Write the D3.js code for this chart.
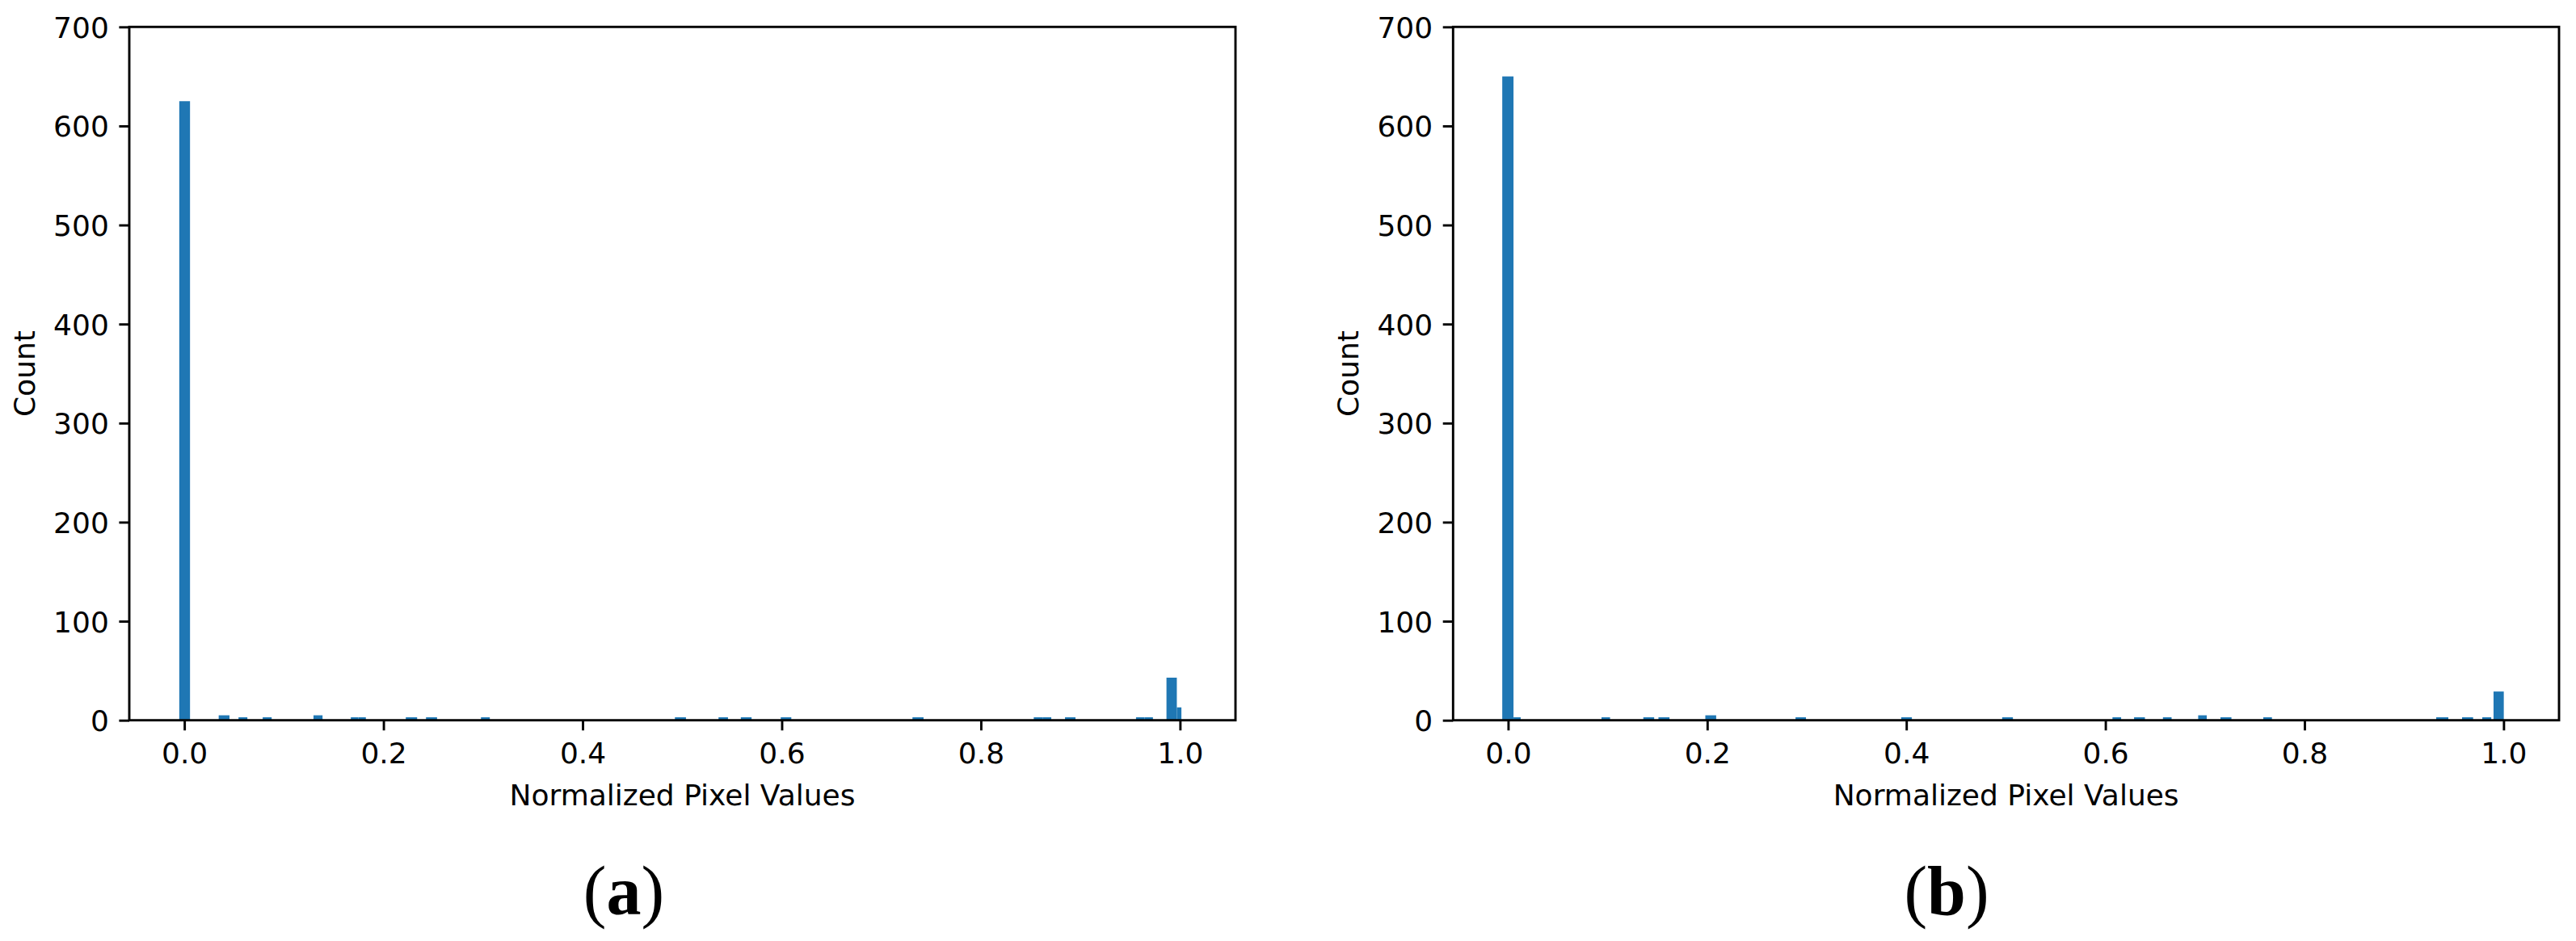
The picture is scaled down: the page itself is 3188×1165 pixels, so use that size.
<!DOCTYPE html>
<html>
<head>
<meta charset="utf-8">
<script src="https://cdn.jsdelivr.net/npm/d3@7"></script>
<style>
  body { margin: 0; background: #fff; }
  .chart text { font-family: "DejaVu Sans", sans-serif; fill: #000; }
</style>
</head>
<body>
<div class="map"></div>
<script>
//tick values shared by both histograms
var xTicks = [0.0, 0.2, 0.4, 0.6, 0.8, 1.0];
var yTicks = [0, 100, 200, 300, 400, 500, 600, 700];

//histogram (a): bin start, bin end, count
var binsA = [
  [-0.0051, 0.0057, 625],
  [0.0345, 0.0453, 5],
  [0.0544, 0.0633, 3],
  [0.0787, 0.0877, 3],
  [0.1297, 0.1388, 5],
  [0.1672, 0.1748, 3],
  [0.1748, 0.1823, 3],
  [0.2224, 0.2338, 3],
  [0.2427, 0.2538, 3],
  [0.2979, 0.3068, 3],
  [0.4927, 0.5038, 3],
  [0.5365, 0.5460, 3],
  [0.5589, 0.5697, 3],
  [0.5990, 0.6096, 3],
  [0.7313, 0.7424, 3],
  [0.8531, 0.8619, 3],
  [0.8619, 0.8707, 3],
  [0.8845, 0.8950, 3],
  [0.9558, 0.9643, 3],
  [0.9643, 0.9728, 3],
  [0.9864, 0.9968, 43],
  [0.9968, 1.0014, 13]
];

//histogram (b): bin start, bin end, count
var binsB = [
  [-0.0059, 0.0054, 650],
  [0.0054, 0.0126, 3],
  [0.0938, 0.1024, 3],
  [0.1358, 0.1467, 3],
  [0.1510, 0.1621, 3],
  [0.1981, 0.2090, 5],
  [0.2887, 0.2992, 3],
  [0.3949, 0.4056, 3],
  [0.4963, 0.5071, 3],
  [0.6071, 0.6158, 3],
  [0.6288, 0.6397, 3],
  [0.6578, 0.6665, 3],
  [0.6932, 0.7018, 5],
  [0.7156, 0.7266, 3],
  [0.7586, 0.7673, 3],
  [0.9323, 0.9445, 3],
  [0.9583, 0.9694, 3],
  [0.9786, 0.9876, 3],
  [0.9899, 1.0002, 29]
];

var xLabel = "Normalized Pixel Values";
var yLabel = "Count";
var panelTags = ["a", "b"];

//constants for the figure
const w = 3188;
const h = 1165;
const plotTop = 33.3;
const plotBottom = 891.7;
const tickLen = 12.6;
const pad = 12.6;

const svg = d3.select(".map")
              .append("svg")
              .attr("width", w)
              .attr("height", h)
              .attr("class", "chart");

drawPanel(160, 1529, binsA, panelTags[0], 772);
drawPanel(1798.3, 3167, binsB, panelTags[1], 2409);

//draws one histogram with its axes and labels
function drawPanel(left, right, bins, tag, tagX) {

  //create the scales
  const xScale = d3.scaleLinear()
                   .domain([-0.0553, 1.0557])
                   .range([left, right]);

  const yScale = d3.scaleLinear()
                   .domain([0, 700])
                   .range([plotBottom, plotTop]);

  const g = svg.append("g");

  //add the bars
  g.selectAll("rect.bar")
    .data(bins)
    .enter()
    .append("rect")
    .attr("class", "bar")
    .attr("x", (d) => xScale(d[0]))
    .attr("y", (d) => yScale(d[2]))
    .attr("width", (d) => xScale(d[1]) - xScale(d[0]))
    .attr("height", (d) => yScale(0) - yScale(d[2]))
    .attr("fill", "#1f77b4");

  //add the x axis
  const xAxis = d3.axisBottom(xScale)
                  .tickValues(xTicks)
                  .tickFormat(d3.format(".1f"))
                  .tickSize(tickLen)
                  .tickPadding(pad);
  const gx = g.append("g")
              .attr("transform", "translate(0," + plotBottom + ")")
              .call(xAxis);

  //add the y axis
  const yAxis = d3.axisLeft(yScale)
                  .tickValues(yTicks)
                  .tickFormat(d3.format("d"))
                  .tickSize(tickLen)
                  .tickPadding(pad);
  const gy = g.append("g")
              .attr("transform", "translate(" + left + ",0)")
              .call(yAxis);

  [gx, gy].forEach((a) => {
    a.select(".domain").remove();
    a.selectAll(".tick line").attr("stroke", "#000").attr("stroke-width", 2.9);
    a.selectAll(".tick text")
      .style("font-family", "'DejaVu Sans', sans-serif")
      .style("font-size", "36px")
      .attr("fill", "#000");
  });
  gx.selectAll(".tick text").attr("dy", "0.78em");
  gy.selectAll(".tick text").attr("dy", "0.36em");

  //the frame round the plot
  g.append("rect")
    .attr("x", left)
    .attr("y", plotTop)
    .attr("width", right - left)
    .attr("height", plotBottom - plotTop)
    .attr("fill", "none")
    .attr("stroke", "#000")
    .attr("stroke-width", 2.9);

  //axis titles
  g.append("text")
    .attr("x", (left + right) / 2)
    .attr("y", 997)
    .attr("text-anchor", "middle")
    .style("font-size", "36px")
    .text(xLabel);

  g.append("text")
    .attr("transform", "translate(" + (left - 117) + "," + ((plotTop + plotBottom) / 2) + ") rotate(-90)")
    .attr("text-anchor", "middle")
    .style("font-size", "36px")
    .text(yLabel);

  //panel tag under the plot
  const t = g.append("text")
             .attr("x", tagX)
             .attr("y", 1132)
             .attr("text-anchor", "middle")
             .style("font-family", "'Liberation Serif', serif")
             .style("font-size", "86px");
  t.append("tspan").text("(");
  t.append("tspan").style("font-weight", "bold").text(tag);
  t.append("tspan").text(")");

}//end of drawPanel
</script>
</body>
</html>
